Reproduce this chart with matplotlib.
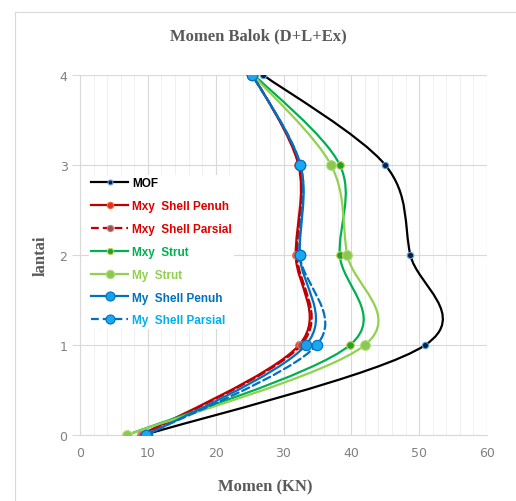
import numpy as np
import matplotlib
matplotlib.use("Agg")
import matplotlib.pyplot as plt
from matplotlib.path import Path
from matplotlib.patches import PathPatch
from matplotlib.lines import Line2D
from matplotlib.ticker import MultipleLocator

# data
lantai = [0, 1, 2, 3, 4]
mof = [9.5, 50.9, 48.7, 45.0, 27.0]
mxy_shell_penuh = [9.0, 32.3, 31.8, 32.2, 25.5]
mxy_shell_parsial = [9.2, 32.6, 32.0, 32.3, 25.5]
mxy_strut = [7.0, 39.8, 38.3, 38.3, 25.7]
my_strut = [6.9, 42.0, 39.4, 37.0, 25.5]
my_shell_penuh = [9.9, 33.3, 32.4, 32.5, 25.4]
my_shell_parsial = [9.7, 34.9, 32.4, 32.5, 25.4]

labels = ['MOF', 'Mxy  Shell Penuh', 'Mxy  Shell Parsial', 'Mxy  Strut',
          'My  Strut', 'My  Shell Penuh', 'My  Shell Parsial']
x_ticks = [0, 10, 20, 30, 40, 50, 60]
y_ticks = [0, 1, 2, 3, 4]


def smooth_path(xs, ys):
    """Excel-like smoothed line through the points (cubic Bezier)."""
    pts = np.column_stack([xs, ys]).astype(float)
    n = len(pts)
    verts = [pts[0]]
    codes = [Path.MOVETO]
    for i in range(n - 1):
        p0 = pts[i - 1] if i > 0 else pts[i]
        p3 = pts[i + 2] if i + 2 < n else pts[i + 1]
        c1 = pts[i] + (pts[i + 1] - p0) / 6
        c2 = pts[i + 1] - (p3 - pts[i]) / 6
        verts += [c1, c2, pts[i + 1]]
        codes += [Path.CURVE4] * 3
    return Path(verts, codes)


series = [
    (mof, '#000000', '-', '#0d1f3c', '#5b9bd5', 4.5),
    (mxy_shell_penuh, '#c00000', '-', '#e03020', '#ff6030', 5.5),
    (mxy_shell_parsial, '#c00000', (0, (3.5, 1.8)), '#a05050', '#c08080', 5.5),
    (mxy_strut, '#00b050', '-', '#20a030', '#c8d040', 5.5),
    (my_strut, '#92d050', '-', '#8cc850', '#b0dc80', 7),
    (my_shell_penuh, '#0070c0', '-', '#1aa0e8', '#0070c0', 7.5),
    (my_shell_parsial, '#0070c0', (0, (3.5, 1.8)), '#1aa8f0', '#0070c0', 7.5),
]
text_colors = ['#000000', '#e00000', '#e00000', '#00b050',
               '#92d050', '#0070c0', '#00b0f0']

fig = plt.figure(figsize=(5.16, 5.02), dpi=100)
ax = fig.add_axes([80 / 516, 1 - 436 / 502, 407 / 516, 360 / 502])

handles = []
for k, (vals, col, ls, mfc, mec, ms) in enumerate(series):
    patch = PathPatch(smooth_path(vals, lantai), facecolor='none',
                      edgecolor=col, lw=1.6, linestyle=ls,
                      zorder=3 + k, capstyle='round')
    ax.add_patch(patch)
    ax.plot(vals, lantai, linestyle='none', marker='o', ms=ms,
            mfc=mfc, mec=mec, mew=0.8, zorder=3.5 + k)
    handles.append(Line2D([], [], color=col, lw=1.6, linestyle=ls,
                          marker='o', ms=ms - 1, mfc=mfc, mec=mec, mew=0.8))

ax.set_xlim(0, 60)
ax.set_ylim(0, 4)
ax.set_xticks(x_ticks)
ax.set_yticks(y_ticks)
ax.xaxis.set_minor_locator(MultipleLocator(2))
ax.grid(which='major', color='#d9d9d9', lw=0.8)
ax.grid(which='minor', axis='x', color='#ececec', lw=0.6)
ax.set_axisbelow(True)
for side in ['top', 'right']:
    ax.spines[side].set_visible(False)
for side in ['left', 'bottom']:
    ax.spines[side].set_color('#d9d9d9')
ax.tick_params(axis='both', which='both', colors='#d9d9d9',
               labelcolor='#808080', labelsize=9)
ax.tick_params(axis='x', which='both', length=0, pad=8)
ax.tick_params(axis='y', which='major', length=6, pad=3)

serif = ['Liberation Serif', 'DejaVu Serif']
fig.text(258 / 516, 1 - 36 / 502, 'Momen Balok (D+L+Ex)', ha='center',
         va='center', fontsize=12, fontweight='bold', color='#595959',
         family=serif)
fig.text(265 / 516, 1 - 487 / 502, 'Momen (KN)', ha='center', va='center',
         fontsize=12, fontweight='bold', color='#595959', family=serif)
fig.text(41 / 516, 1 - 256 / 502, 'lantai', ha='center', va='center',
         rotation=90, fontsize=12, fontweight='bold', color='#595959',
         family=serif)

leg = ax.legend(handles, labels, loc='upper left',
                bbox_to_anchor=(83 / 516, 1 - 170 / 502),
                bbox_transform=fig.transFigure, frameon=True,
                facecolor='white', edgecolor='none', framealpha=1,
                fancybox=False, handlelength=3.1, handletextpad=0.35,
                labelspacing=0.92, borderpad=0.2,
                prop={'family': 'Liberation Sans', 'weight': 'bold',
                      'size': 8.5})
leg.set_zorder(20)
for txt, c in zip(leg.get_texts(), text_colors):
    txt.set_color(c)

# outer chart border
fig.add_artist(Line2D([15 / 516, 15 / 516], [1 - 13 / 502, 0],
                      transform=fig.transFigure, color='#d9d9d9', lw=0.8))
fig.add_artist(Line2D([15 / 516, 1], [1 - 13 / 502, 1 - 13 / 502],
                      transform=fig.transFigure, color='#d9d9d9', lw=0.8))

fig.savefig('out.png', dpi=100)
